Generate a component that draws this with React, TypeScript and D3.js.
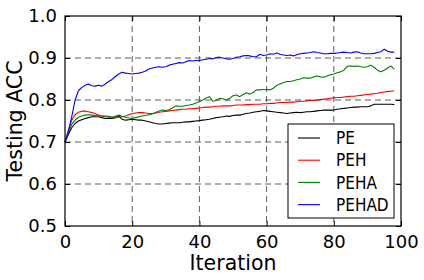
import React, { useRef, useEffect } from "react";
import * as d3 from "d3";

// series values, one per iteration (0..98)
const pe = [
  0.7, 0.718, 0.734, 0.744, 0.75, 0.753, 0.756, 0.758, 0.76, 0.76,
  0.76, 0.758, 0.756, 0.756, 0.756, 0.758, 0.762, 0.754, 0.752, 0.753,
  0.754, 0.753, 0.752, 0.752, 0.75, 0.748, 0.746, 0.744, 0.743, 0.743,
  0.744, 0.745, 0.746, 0.746, 0.746, 0.747, 0.748, 0.748, 0.749, 0.75,
  0.751, 0.752, 0.753, 0.754, 0.756, 0.758, 0.759, 0.76, 0.762, 0.761,
  0.763, 0.764, 0.764, 0.766, 0.768, 0.769, 0.771, 0.772, 0.773, 0.775,
  0.774, 0.773, 0.772, 0.771, 0.77, 0.769, 0.768, 0.769, 0.77, 0.771,
  0.77, 0.771, 0.772, 0.772, 0.773, 0.774, 0.775, 0.776, 0.776, 0.776,
  0.776, 0.778, 0.779, 0.78, 0.781, 0.782, 0.783, 0.783, 0.784, 0.784,
  0.784, 0.786, 0.79, 0.79, 0.79, 0.79, 0.79, 0.79, 0.789,
];

const peh = [
  0.7, 0.728, 0.752, 0.765, 0.771, 0.773, 0.774, 0.772, 0.77, 0.767,
  0.764, 0.762, 0.76, 0.759, 0.759, 0.758, 0.759, 0.76, 0.762, 0.765,
  0.768, 0.769, 0.77, 0.77, 0.769, 0.768, 0.768, 0.769, 0.771, 0.772,
  0.773, 0.774, 0.775, 0.776, 0.777, 0.778, 0.778, 0.779, 0.779, 0.78,
  0.781, 0.782, 0.783, 0.783, 0.784, 0.785, 0.785, 0.786, 0.786, 0.786,
  0.787, 0.788, 0.788, 0.788, 0.789, 0.789, 0.79, 0.79, 0.79, 0.791,
  0.791, 0.792, 0.792, 0.793, 0.794, 0.794, 0.794, 0.795, 0.795, 0.796,
  0.797, 0.797, 0.798, 0.799, 0.799, 0.8, 0.801, 0.802, 0.803, 0.804,
  0.805, 0.806, 0.806, 0.807, 0.808, 0.809, 0.809, 0.81, 0.811, 0.812,
  0.813, 0.814, 0.815, 0.816, 0.818, 0.819, 0.82, 0.821, 0.822,
];

const peha = [
  0.7, 0.72, 0.742, 0.752, 0.759, 0.762, 0.764, 0.765, 0.764, 0.763,
  0.762, 0.762, 0.762, 0.761, 0.759, 0.761, 0.764, 0.761, 0.759, 0.757,
  0.756, 0.758, 0.76, 0.762, 0.763, 0.765, 0.767, 0.77, 0.774, 0.776,
  0.775, 0.777, 0.781, 0.786, 0.785, 0.785, 0.787, 0.788, 0.79, 0.793,
  0.796, 0.8, 0.805, 0.808, 0.797, 0.799, 0.804, 0.803, 0.8, 0.804,
  0.81, 0.812, 0.808, 0.813, 0.817, 0.814, 0.818, 0.824, 0.824, 0.825,
  0.825, 0.824, 0.828, 0.835, 0.838, 0.841, 0.844, 0.844, 0.846, 0.848,
  0.85, 0.853, 0.852, 0.852, 0.855, 0.857, 0.855, 0.854, 0.857, 0.86,
  0.862, 0.865, 0.867, 0.871, 0.88, 0.881, 0.88, 0.881, 0.879, 0.878,
  0.879, 0.883, 0.878, 0.871, 0.867, 0.871, 0.876, 0.881, 0.873,
];

const pehad = [
  0.7, 0.725, 0.76, 0.8, 0.822, 0.83, 0.835, 0.838, 0.834, 0.833,
  0.835, 0.833, 0.838, 0.844, 0.849, 0.856, 0.862, 0.866, 0.864, 0.863,
  0.862, 0.863, 0.864, 0.866, 0.869, 0.874, 0.876, 0.878, 0.879, 0.878,
  0.879, 0.883, 0.885, 0.887, 0.889, 0.888, 0.891, 0.894, 0.893, 0.894,
  0.894, 0.896, 0.897, 0.899, 0.898, 0.901, 0.902, 0.9, 0.898, 0.897,
  0.899, 0.902, 0.903, 0.905, 0.906, 0.905, 0.903, 0.903, 0.909, 0.906,
  0.907, 0.91, 0.909, 0.912, 0.909, 0.907, 0.906, 0.907, 0.905, 0.908,
  0.91, 0.911, 0.912, 0.913, 0.915, 0.913, 0.912, 0.91, 0.91, 0.911,
  0.911, 0.912, 0.913, 0.914, 0.913, 0.912, 0.914, 0.915, 0.912, 0.91,
  0.91, 0.91, 0.911, 0.913, 0.915, 0.921, 0.916, 0.914, 0.914,
];

const seriesNames = ["PE", "PEH", "PEHA", "PEHAD"];
const seriesColors = ["#000000", "#ff0000", "#008000", "#0000ff"];
const seriesData = [pe, peh, peha, pehad];

const xTicks = [0, 20, 40, 60, 80, 100];
const yTicks = [0.5, 0.6, 0.7, 0.8, 0.9, 1.0];

const FONT = "'DejaVu Sans', sans-serif";

const App = () => {
  const svgRef = useRef(null);

  useEffect(() => {
    const dims = { width: 424, height: 280, left: 65, right: 23, top: 16, bottom: 54 };
    const innerW = dims.width - dims.left - dims.right;
    const innerH = dims.height - dims.top - dims.bottom;

    const svg = d3.select(svgRef.current);
    svg.selectAll("*").remove();

    const xScale = d3.scaleLinear().domain([0, 100]).range([0, innerW]);
    const yScale = d3.scaleLinear().domain([0.5, 1.0]).range([innerH, 0]);

    const g = svg
      .append("g")
      .attr("transform", `translate(${dims.left}, ${dims.top})`);

    // lines
    const line = d3
      .line<number>()
      .x((d, i) => xScale(i))
      .y((d) => yScale(d));

    seriesData.forEach((values, k) => {
      g.append("path")
        .datum(values)
        .attr("d", line)
        .attr("fill", "none")
        .attr("stroke", seriesColors[k])
        .attr("stroke-width", 1.1)
        .attr("stroke-linejoin", "round");
    });

    // grid (drawn above lines like classic matplotlib)
    const grid = g.append("g").attr("stroke", "#333").attr("stroke-width", 0.8)
      .attr("stroke-dasharray", "6,4");
    xTicks.slice(1, -1).forEach((t) => {
      grid.append("line")
        .attr("x1", xScale(t)).attr("x2", xScale(t))
        .attr("y1", 0).attr("y2", innerH);
    });
    yTicks.slice(1, -1).forEach((t) => {
      grid.append("line")
        .attr("x1", 0).attr("x2", innerW)
        .attr("y1", yScale(t)).attr("y2", yScale(t));
    });

    // axes, ticks inward on all four sides
    const xBottom = d3.axisBottom(xScale).tickValues(xTicks).tickSize(-5).tickPadding(9)
      .tickFormat((d) => `${d}`);
    const xTop = d3.axisTop(xScale).tickValues(xTicks).tickSize(-5).tickFormat(() => "");
    const yLeft = d3.axisLeft(yScale).tickValues(yTicks).tickSize(-5).tickPadding(8)
      .tickFormat(d3.format(".1f"));
    const yRight = d3.axisRight(yScale).tickValues(yTicks).tickSize(-5).tickFormat(() => "");

    const styleAxis = (sel) => {
      sel.select(".domain").remove();
      sel.selectAll("line").attr("stroke", "#000").attr("stroke-width", 1);
      sel.selectAll("text")
        .attr("fill", "#000")
        .style("font-family", FONT)
        .style("font-size", "18px");
    };

    g.append("g").attr("transform", `translate(0, ${innerH})`).call(xBottom).call(styleAxis);
    g.append("g").call(xTop).call(styleAxis);
    g.append("g").call(yLeft).call(styleAxis);
    g.append("g").attr("transform", `translate(${innerW}, 0)`).call(yRight).call(styleAxis);

    // frame
    g.append("rect")
      .attr("width", innerW)
      .attr("height", innerH)
      .attr("fill", "none")
      .attr("stroke", "#000")
      .attr("stroke-width", 1.2);

    // legend
    const legend = g.append("g").attr("transform", `translate(${288 - dims.left}, ${124 - dims.top})`);
    legend.append("rect")
      .attr("width", 106)
      .attr("height", 94)
      .attr("fill", "#fff")
      .attr("stroke", "#000")
      .attr("stroke-width", 1);
    seriesNames.forEach((name, k) => {
      const cy = 14 + k * 22.2;
      legend.append("line")
        .attr("x1", 10).attr("x2", 32)
        .attr("y1", cy).attr("y2", cy)
        .attr("stroke", seriesColors[k])
        .attr("stroke-width", 1.1);
      legend.append("text")
        .attr("x", 48)
        .attr("y", cy)
        .attr("dy", "0.36em")
        .attr("fill", "#000")
        .style("font-family", "'DejaVu Sans Condensed', 'DejaVu Sans', sans-serif")
        .style("font-size", "17px")
        .text(name);
    });

    // axis labels
    svg.append("text")
      .attr("x", dims.left + innerW / 2)
      .attr("y", 270)
      .attr("text-anchor", "middle")
      .style("font-family", FONT)
      .style("font-size", "20.5px")
      .text("Iteration");

    svg.append("text")
      .attr("transform", `translate(22, ${dims.top + innerH / 2}) rotate(-90)`)
      .attr("text-anchor", "middle")
      .style("font-family", FONT)
      .style("font-size", "20.5px")
      .text("Testing ACC");
  }, []);

  return (
    <svg
      ref={svgRef}
      width={424}
      height={280}
      style={{ position: "absolute", left: 0, top: 0, background: "#fff" }}
    />
  );
};

export default App;
